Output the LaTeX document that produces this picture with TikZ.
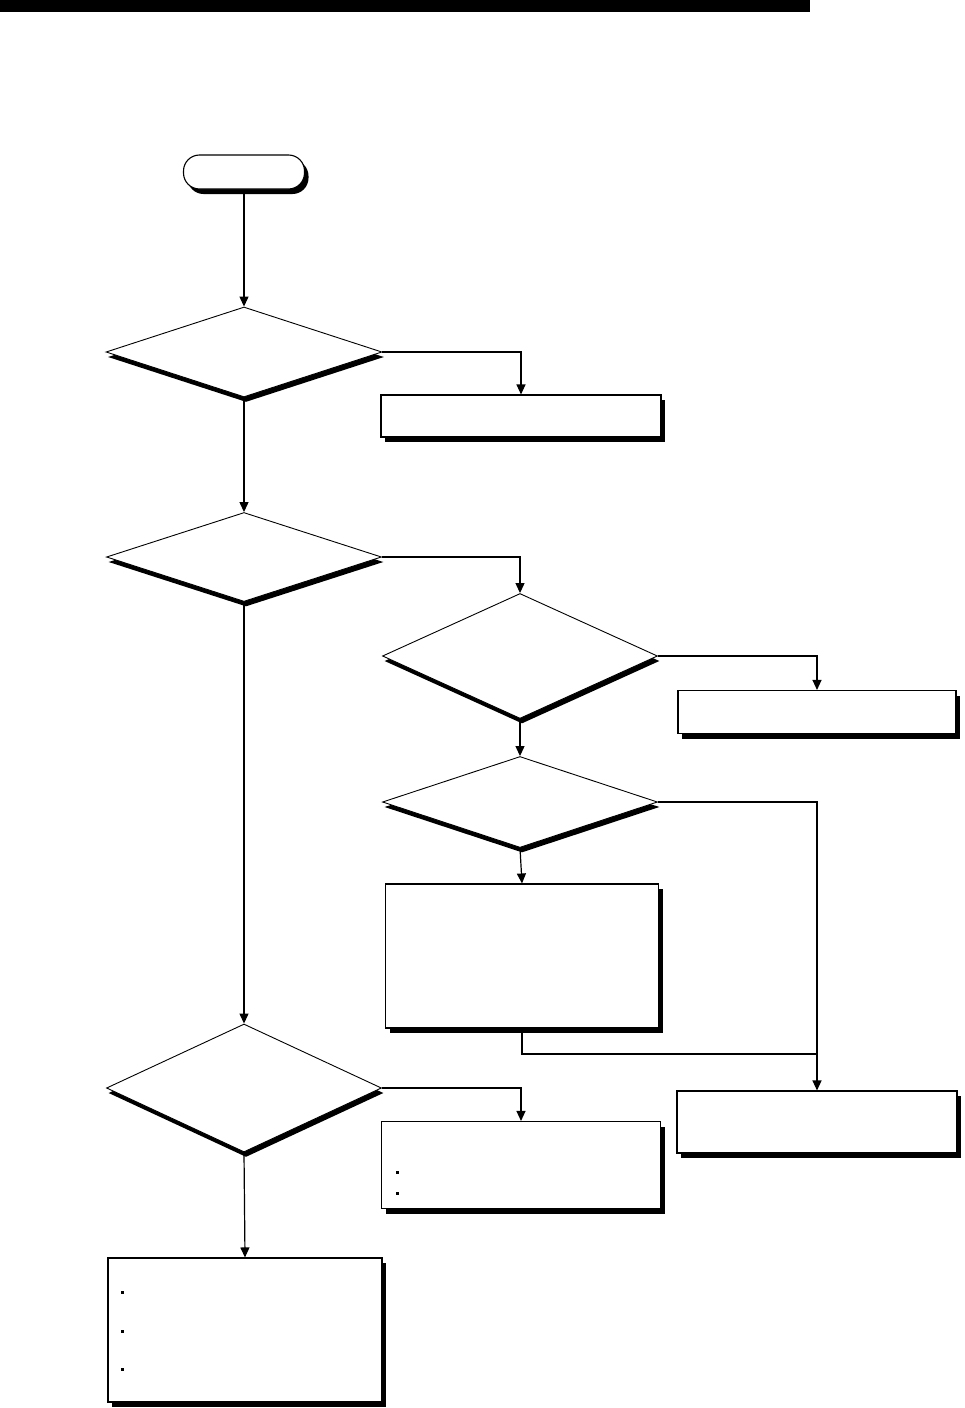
\documentclass[tikz,border=0pt]{standalone}
\usetikzlibrary{shapes.geometric,shadows,arrows.meta}

\tikzset{
    box/.style={draw, fill=white, line width=1.1pt, inner sep=0pt,
        drop shadow={shadow xshift=4pt, shadow yshift=-5pt, opacity=1, fill=black}},
    decision/.style={diamond, draw, fill=white, line width=0.9pt, inner sep=0pt,
        drop shadow={shadow xshift=2pt, shadow yshift=-5pt, opacity=1, fill=black}},
    terminal/.style={box, rounded corners=16pt},
    flow/.style={line width=1.2pt, -{Triangle[length=10pt,width=9pt]}},
    link/.style={line width=1.2pt}
}

\begin{document}
\begin{tikzpicture}[x=1pt,y=-1pt]
    \useasboundingbox (0,0) rectangle (964,1408);

    % Header bar
    \fill (0,0) rectangle (810,12);

    % Start
    \node[terminal, minimum width=121pt, minimum height=34pt] (start) at (244,172) {};

    % Decisions
    \node[decision, minimum width=276pt, minimum height=90pt] (chkA) at (244,352) {};
    \node[decision, minimum width=275pt, minimum height=89pt] (chkB) at (244,557) {};
    \node[decision, minimum width=275pt, minimum height=125pt] (chkC) at (520,656) {};
    \node[decision, minimum width=275pt, minimum height=91pt] (chkD) at (520,802) {};
    \node[decision, minimum width=275pt, minimum height=128pt] (chkE) at (244,1088) {};

    % Process boxes
    \node[box, minimum width=280pt, minimum height=42pt] (procA) at (521,416) {};
    \node[box, minimum width=278pt, minimum height=43pt] (procB) at (817,712) {};
    \node[box, minimum width=273pt, minimum height=144pt] (procC) at (522,956) {};
    \node[box, minimum width=280pt, minimum height=62pt] (procD) at (817,1122) {};
    \node[box, minimum width=279pt, minimum height=87pt] (procE) at (521,1165) {};
    \node[box, minimum width=274pt, minimum height=144pt] (procF) at (245,1330) {};

    % Bullets
    \foreach \bx/\by in {397/1172, 397/1193, 122/1292, 122/1331, 122/1369}
        \fill (\bx-1.5,\by-1.5) rectangle ++(3,3);

    % Connectors
    \draw[flow] (start.south) -- (chkA.north);
    \draw[flow] (chkA.east) -| (procA.north);
    \draw[flow] (chkA.south) -- (chkB.north);
    \draw[flow] (chkB.east) -| (chkC.north);
    \draw[flow] (chkC.east) -| (procB.north);
    \draw[flow] (chkC.south) -- (chkD.north);
    \draw[flow] (chkD.east) -| (procD.north);
    \draw[flow] (chkD.south) -- (procC.north);
    \coordinate (merge) at (procD.north |- 0,1054);
    \draw[link] (procC.south) |- (merge);
    \draw[flow] (chkB.south) -- (chkE.north);
    \draw[flow] (chkE.east) -| (procE.north);
    \draw[flow] (chkE.south) -- (procF.north);

\end{tikzpicture}
\end{document}
